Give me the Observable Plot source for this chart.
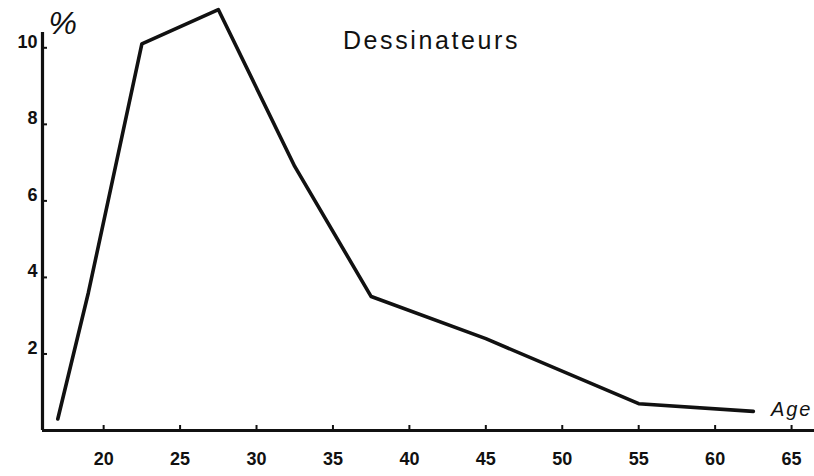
<!DOCTYPE html>
<html>
<head>
<meta charset="utf-8">
<script src="https://cdn.jsdelivr.net/npm/d3@7"></script>
<script src="https://cdn.jsdelivr.net/npm/@observablehq/plot@0.6"></script>
<style>
  html, body { margin: 0; padding: 0; background: #ffffff; }
  #chart svg { display: block; }
  #chart g[aria-label="x-axis tick label"], #chart g[aria-label="y-axis tick label"] {
    font-size: 18px; font-weight: bold;
  }
</style>
</head>
<body>
<div id="chart"></div>
<script>
const ages = [17, 19, 22.5, 27.5, 32.5, 37.5, 45, 55, 62.5];
const percents = [0.3, 3.6, 10.1, 11.0, 6.9, 3.5, 2.4, 0.7, 0.5];
const xTicks = [20, 25, 30, 35, 40, 45, 50, 55, 60, 65];
const yTicks = [2, 4, 6, 8, 10];
const xDomain = [16, 66.5];
const yDomain = [0, 10.4];
const title = "Dessinateurs";
const xLabel = "Age";
const yLabel = "%";

const W = 814, H = 476, ML = 42, MR = 0, MT = 32, MB = 46;
const frameW = W - ML - MR, frameH = H - MT - MB;
const tickLen = 5;

const data = ages.map((a, i) => ({age: a, pct: percents[i]}));

const chart = Plot.plot({
  width: W,
  height: H,
  marginLeft: ML,
  marginRight: MR,
  marginTop: MT,
  marginBottom: MB,
  style: {fontFamily: "'Liberation Sans', Arial, sans-serif", background: "#ffffff", color: "#111"},
  x: {domain: xDomain},
  y: {domain: yDomain},
  marks: [
    Plot.axisX({ticks: xTicks, tickSize: 0, tickPadding: 22, tickFormat: d => String(d),
      fontSize: 18, fontWeight: "bold", fill: "#111", label: null}),
    Plot.axisY({ticks: yTicks, tickSize: 0, tickPadding: 5, tickFormat: d => String(d),
      fontSize: 18, fontWeight: "bold", dy: -6, fill: "#111", label: null}),
    Plot.tickX(xTicks, {x: d => d, insetTop: frameH - tickLen, stroke: "#111", strokeWidth: 2}),
    Plot.tickY(yTicks, {y: d => d, insetRight: frameW - tickLen, stroke: "#111", strokeWidth: 2}),
    Plot.ruleY([yDomain[0]], {stroke: "#111", strokeWidth: 3.2}),
    Plot.ruleX([xDomain[0]], {stroke: "#111", strokeWidth: 3.2}),
    Plot.line(data, {x: "age", y: "pct", stroke: "#111", strokeWidth: 3.6, strokeLinejoin: "round", strokeLinecap: "round"}),
    Plot.text([title], {frameAnchor: "top", text: d => d, dx: 3, dy: 16, lineAnchor: "bottom",
      fontSize: 25, fill: "#111"}),
    Plot.text([xLabel], {frameAnchor: "bottom-right", text: d => d, dx: -2, dy: -15, lineAnchor: "bottom",
      textAnchor: "end", fontSize: 20, fontStyle: "italic", fill: "#111"}),
    Plot.text([yLabel], {frameAnchor: "top-left", text: d => d, dx: 6, dy: 1, lineAnchor: "bottom",
      textAnchor: "start", fontSize: 32, fontStyle: "italic", fill: "#111"})
  ]
});
// letter spacing to match the wide lettering of the original
d3.select(chart).selectAll("text").each(function() {
  const t = this.textContent;
  if (t === title) this.setAttribute("letter-spacing", "2.6px");
  if (t === xLabel) this.setAttribute("letter-spacing", "2px");
});
document.getElementById("chart").appendChild(chart);
</script>
</body>
</html>
